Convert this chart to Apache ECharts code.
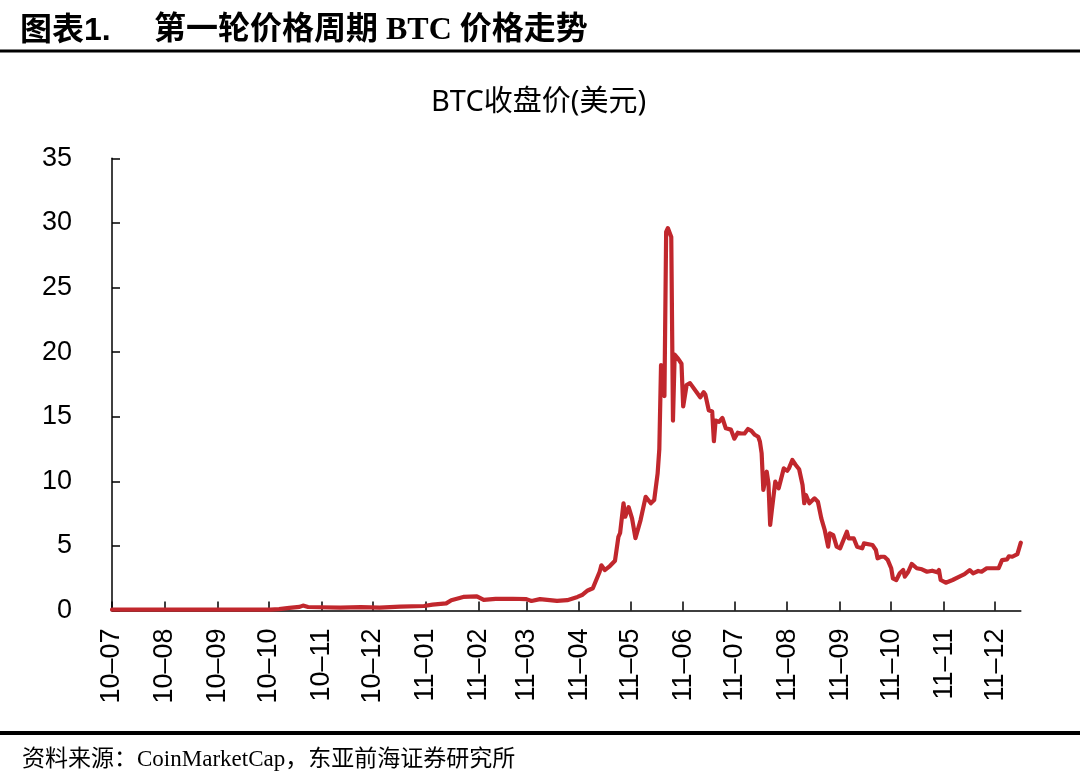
<!DOCTYPE html>
<html>
<head>
<meta charset="utf-8">
<script src="https://cdn.jsdelivr.net/npm/echarts@6/dist/echarts.min.js"></script>
<style>
html,body{margin:0;padding:0;background:#fff;}
#chart{width:1080px;height:783px;}
</style>
</head>
<body>
<div id="chart"></div>
<script>
// ---- data ----
const dates = [
'2010-07-01','2010-07-23','2010-08-22','2010-09-14','2010-10-02','2010-10-07','2010-10-13','2010-10-19','2010-10-21','2010-10-24',
'2010-10-31','2010-11-12','2010-11-24','2010-12-05','2010-12-17','2010-12-31','2011-01-05','2011-01-13','2011-01-16','2011-01-23',
'2011-01-31','2011-02-01','2011-02-04','2011-02-11','2011-02-21','2011-03-01','2011-03-04','2011-03-09','2011-03-19','2011-03-25',
'2011-03-31','2011-04-03','2011-04-06','2011-04-09','2011-04-10','2011-04-13','2011-04-14','2011-04-16','2011-04-19','2011-04-22',
'2011-04-24','2011-04-25','2011-04-27','2011-04-28','2011-04-30','2011-05-02','2011-05-04','2011-05-07','2011-05-10','2011-05-13',
'2011-05-15','2011-05-17','2011-05-18','2011-05-19','2011-05-20','2011-05-21','2011-05-22','2011-05-23','2011-05-25','2011-05-26',
'2011-05-27','2011-05-29','2011-05-30','2011-05-31','2011-06-01','2011-06-03','2011-06-05','2011-06-11','2011-06-13','2011-06-14',
'2011-06-16','2011-06-18','2011-06-19','2011-06-20','2011-06-22','2011-06-23','2011-06-24','2011-06-26','2011-06-29','2011-07-01',
'2011-07-03','2011-07-05','2011-07-07','2011-07-09','2011-07-11','2011-07-13','2011-07-15','2011-07-16','2011-07-17','2011-07-18',
'2011-07-20','2011-07-21','2011-07-22','2011-07-23','2011-07-25','2011-07-27','2011-07-28','2011-07-30','2011-08-01','2011-08-02',
'2011-08-04','2011-08-06','2011-08-08','2011-08-10','2011-08-11','2011-08-12','2011-08-14','2011-08-17','2011-08-19','2011-08-21',
'2011-08-23','2011-08-25','2011-08-26','2011-08-28','2011-08-30','2011-09-01','2011-09-03','2011-09-05','2011-09-06','2011-09-09',
'2011-09-11','2011-09-14','2011-09-15','2011-09-20','2011-09-22','2011-09-23','2011-09-25','2011-09-27','2011-09-29','2011-10-01',
'2011-10-02','2011-10-04','2011-10-06','2011-10-08','2011-10-09','2011-10-11','2011-10-13','2011-10-16','2011-10-19','2011-10-22',
'2011-10-25','2011-10-28','2011-10-29','2011-10-30','2011-10-31','2011-11-02','2011-11-06','2011-11-10','2011-11-13','2011-11-16',
'2011-11-18','2011-11-21','2011-11-23','2011-11-26','2011-11-30','2011-12-03','2011-12-05','2011-12-08','2011-12-09','2011-12-11',
'2011-12-14','2011-12-15','2011-12-16'
];
const prices = [
0.06,0.07,0.07,0.06,0.07,0.10,0.20,0.28,0.38,0.27,
0.25,0.22,0.26,0.23,0.30,0.35,0.45,0.55,0.80,1.05,
1.10,1.00,0.82,0.90,0.91,0.88,0.74,0.88,0.74,0.80,
1.05,1.22,1.55,1.72,1.75,3.00,3.50,3.13,3.44,3.85,
5.70,6.00,8.30,7.26,8.00,7.13,5.60,7.00,8.80,8.30,
8.55,10.60,12.50,19.00,19.00,16.60,29.30,29.60,28.90,14.70,
19.80,19.50,19.60,19.10,15.80,17.45,17.60,16.50,16.90,16.70,
15.50,15.40,13.10,14.70,14.60,14.70,14.90,14.10,14.00,13.30,
13.76,13.70,13.70,14.05,13.90,13.60,13.45,13.06,12.17,9.33,
10.74,9.85,6.62,7.78,9.97,9.46,9.58,11.00,10.82,11.00,
11.65,11.26,10.93,9.71,8.30,8.94,8.30,8.68,8.42,7.13,
6.23,4.94,5.97,5.84,4.94,4.81,5.46,6.10,5.59,5.59,
4.94,4.81,5.20,5.07,4.68,4.04,4.16,4.16,3.90,3.27,
2.49,2.36,2.88,3.13,2.62,3.00,3.60,3.27,3.19,3.00,
3.08,2.96,3.13,2.36,2.49,2.15,2.36,2.62,2.82,3.13,
2.88,3.06,3.00,3.27,3.27,3.27,3.90,3.96,4.20,4.16,
4.37,4.81,5.25
];
const monthTicks = [
'2010-07-01','2010-08-01','2010-09-01','2010-10-01','2010-11-01','2010-12-01',
'2011-01-01','2011-02-01','2011-03-01','2011-04-01','2011-05-01','2011-06-01',
'2011-07-01','2011-08-01','2011-09-01','2011-10-01','2011-11-01','2011-12-01'
];
const xStart = '2010-07-01';
const xEnd = '2011-12-16';
const yTicks = [0, 5, 10, 15, 20, 25, 30, 35];

const chartTitle = 'BTC收盘价(美元)';
const headLabel = '图表1.';
const headTitle = '第一轮价格周期 BTC 价格走势';
const sourceText = '资料来源：CoinMarketCap，东亚前海证券研究所';

// dates -> UTC timestamps for a numeric (date-proportional) axis
const ts = s => Date.parse(s + 'T00:00:00Z');
const lineData = dates.map((d, i) => [ts(d), prices[i]]);
const tickValues = monthTicks.map(ts);

const chart = echarts.init(document.getElementById('chart'), null, {renderer: 'canvas'});
const axisFont = '"Liberation Sans", Arial, sans-serif';

chart.setOption({
  animation: false,
  backgroundColor: '#fff',
  title: {
    text: chartTitle,
    left: 426,
    top: 83,
    textStyle: {
      fontFamily: '"Noto Sans", "Noto Sans CJK SC", sans-serif',
      fontSize: 29,
      fontWeight: 'normal',
      color: '#000'
    }
  },
  grid: {left: 112, right: 59.2, top: 158.3, bottom: 172.5, containLabel: false},
  xAxis: {
    type: 'value',
    min: ts(xStart),
    max: ts(xEnd),
    axisLine: {show: true, lineStyle: {color: '#000', width: 1.5}},
    axisTick: {show: true, inside: true, length: 9, lineStyle: {color: '#000', width: 1.5}, customValues: tickValues},
    splitLine: {show: false},
    axisLabel: {
      customValues: tickValues,
      rotate: 90,
      margin: 18,
      color: '#000',
      fontFamily: axisFont,
      fontSize: 27,
      formatter: function (v) {
        const d = new Date(v);
        const yy = String(d.getUTCFullYear()).slice(2);
        const mm = String(d.getUTCMonth() + 1).padStart(2, '0');
        return yy + '\u2013' + mm;
      }
    }
  },
  yAxis: {
    type: 'value',
    min: yTicks[0],
    max: yTicks[yTicks.length - 1],
    interval: 5,
    axisLine: {show: true, lineStyle: {color: '#000', width: 1.5}},
    axisTick: {show: true, inside: true, length: 8, lineStyle: {color: '#000', width: 1.5}},
    splitLine: {show: false},
    axisLabel: {margin: 40, color: '#000', fontFamily: axisFont, fontSize: 27}
  },
  series: [{
    type: 'line',
    data: lineData,
    showSymbol: false,
    symbol: 'none',
    lineStyle: {color: '#C1272D', width: 4.2, join: 'round', cap: 'round'},
    z: 3
  }],
  graphic: [
    {type: 'text', left: 20, top: 15, style: {text: headLabel, font: 'bold 32px "Liberation Sans", "Noto Sans CJK SC", sans-serif', fill: '#000'}},
    {type: 'text', left: 154, top: 15, style: {text: headTitle, font: 'bold 32px "Liberation Serif", "Noto Sans CJK SC", serif', fill: '#000'}},
    {type: 'rect', shape: {x: 0, y: 49.5, width: 1080, height: 3}, style: {fill: '#000'}},
    {type: 'rect', shape: {x: 0, y: 731, width: 1080, height: 4}, style: {fill: '#000'}},
    {type: 'text', left: 22, top: 748, style: {text: sourceText, font: '23px "Liberation Serif", "Noto Sans CJK SC", serif', fill: '#000'}}
  ]
});
</script>
</body>
</html>
